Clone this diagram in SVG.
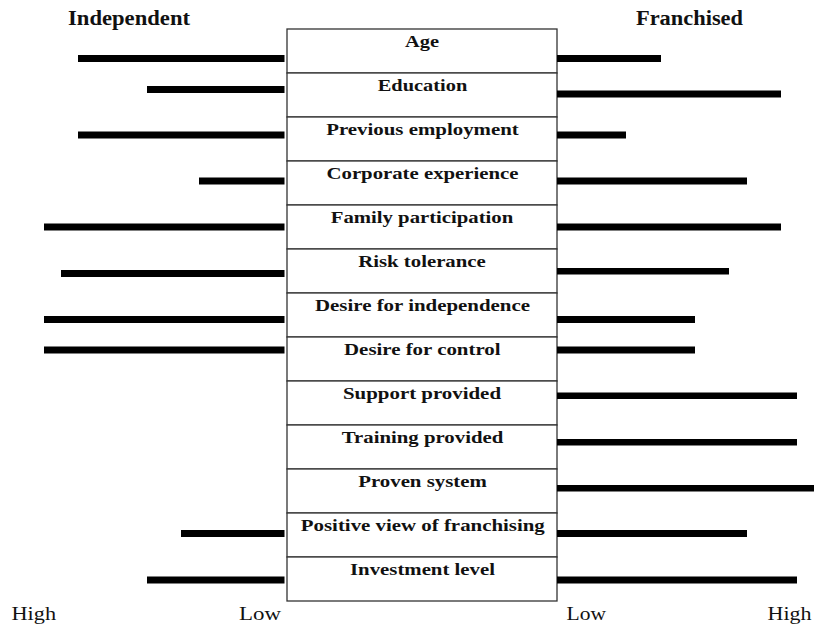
<svg xmlns="http://www.w3.org/2000/svg" width="815" height="626" viewBox="0 0 815 626">
<style>
.lbl{font-family:"Liberation Serif","Times New Roman",serif;font-weight:bold;font-size:17.5px;fill:#111;text-anchor:middle}
.hdr{font-family:"Liberation Serif","Times New Roman",serif;font-weight:bold;font-size:20px;fill:#111}
.ax{font-family:"Liberation Serif","Times New Roman",serif;font-size:18.5px;fill:#111}
.cell{fill:#fff;stroke:#333;stroke-width:1.3}
.bar{fill:#000}
</style>
<rect width="815" height="626" fill="#fff"/>
<text class="hdr" x="68" y="25" textLength="122" lengthAdjust="spacingAndGlyphs">Independent</text>
<text class="hdr" x="636" y="24.5" textLength="107" lengthAdjust="spacingAndGlyphs">Franchised</text>
<g id="rows">
<g id="row-age"><rect class="cell" x="287" y="29" width="270" height="44"/><text class="lbl" x="422" y="46.5" textLength="34" lengthAdjust="spacingAndGlyphs">Age</text></g>
<g id="row-education"><rect class="cell" x="287" y="73" width="270" height="44"/><text class="lbl" x="422.5" y="90.5" textLength="89.5" lengthAdjust="spacingAndGlyphs">Education</text></g>
<g id="row-previous-employment"><rect class="cell" x="287" y="117" width="270" height="44"/><text class="lbl" x="422.5" y="134.5" textLength="192.5" lengthAdjust="spacingAndGlyphs">Previous employment</text></g>
<g id="row-corporate-experience"><rect class="cell" x="287" y="161" width="270" height="44"/><text class="lbl" x="422.5" y="178.5" textLength="192" lengthAdjust="spacingAndGlyphs">Corporate experience</text></g>
<g id="row-family-participation"><rect class="cell" x="287" y="205" width="270" height="44"/><text class="lbl" x="422" y="222.5" textLength="182.5" lengthAdjust="spacingAndGlyphs">Family participation</text></g>
<g id="row-risk-tolerance"><rect class="cell" x="287" y="249" width="270" height="44"/><text class="lbl" x="422" y="266.5" textLength="127.5" lengthAdjust="spacingAndGlyphs">Risk tolerance</text></g>
<g id="row-desire-independence"><rect class="cell" x="287" y="293" width="270" height="44"/><text class="lbl" x="422.5" y="310.5" textLength="215" lengthAdjust="spacingAndGlyphs">Desire for independence</text></g>
<g id="row-desire-control"><rect class="cell" x="287" y="337" width="270" height="44"/><text class="lbl" x="422.3" y="354.5" textLength="156.5" lengthAdjust="spacingAndGlyphs">Desire for control</text></g>
<g id="row-support-provided"><rect class="cell" x="287" y="381" width="270" height="44"/><text class="lbl" x="422" y="398.5" textLength="158" lengthAdjust="spacingAndGlyphs">Support provided</text></g>
<g id="row-training-provided"><rect class="cell" x="287" y="425" width="270" height="44"/><text class="lbl" x="422.5" y="442.5" textLength="161.5" lengthAdjust="spacingAndGlyphs">Training provided</text></g>
<g id="row-proven-system"><rect class="cell" x="287" y="469" width="270" height="44"/><text class="lbl" x="422.5" y="486.5" textLength="128.5" lengthAdjust="spacingAndGlyphs">Proven system</text></g>
<g id="row-positive-view"><rect class="cell" x="287" y="513" width="270" height="44"/><text class="lbl" x="422.8" y="530.5" textLength="244" lengthAdjust="spacingAndGlyphs">Positive view of franchising</text></g>
<g id="row-investment-level"><rect class="cell" x="287" y="557" width="270" height="44"/><text class="lbl" x="422.5" y="574.5" textLength="145" lengthAdjust="spacingAndGlyphs">Investment level</text></g>
</g>
<g id="connectors">
<rect class="bar" x="78" y="55" width="206.5" height="7"/>
<rect class="bar" x="557" y="55" width="104" height="7"/>
<rect class="bar" x="147" y="86" width="137.5" height="7"/>
<rect class="bar" x="557" y="90.5" width="224" height="7"/>
<rect class="bar" x="78" y="131.5" width="206.5" height="7"/>
<rect class="bar" x="557" y="131.5" width="69" height="7"/>
<rect class="bar" x="199" y="177.5" width="85.5" height="7"/>
<rect class="bar" x="557" y="177.5" width="190" height="7"/>
<rect class="bar" x="44" y="223.5" width="240.5" height="7"/>
<rect class="bar" x="557" y="223.5" width="224" height="7"/>
<rect class="bar" x="61" y="270" width="223.5" height="7"/>
<rect class="bar" x="557" y="268" width="172" height="6.5"/>
<rect class="bar" x="44" y="316" width="240.5" height="7"/>
<rect class="bar" x="557" y="316" width="138" height="7"/>
<rect class="bar" x="44" y="346.5" width="240.5" height="7"/>
<rect class="bar" x="557" y="346.5" width="138" height="7"/>
<rect class="bar" x="557" y="392.5" width="240" height="6.5"/>
<rect class="bar" x="557" y="439" width="240" height="6.5"/>
<rect class="bar" x="557" y="485" width="257" height="6.5"/>
<rect class="bar" x="181" y="530" width="103.5" height="7"/>
<rect class="bar" x="557" y="530" width="190" height="7"/>
<rect class="bar" x="147" y="576.5" width="137.5" height="7"/>
<rect class="bar" x="557" y="576.5" width="240" height="7"/>
</g>
<text class="ax" x="11.5" y="620" textLength="44.5" lengthAdjust="spacingAndGlyphs">High</text>
<text class="ax" x="239" y="620" textLength="42" lengthAdjust="spacingAndGlyphs">Low</text>
<text class="ax" x="566.5" y="620" textLength="39.5" lengthAdjust="spacingAndGlyphs">Low</text>
<text class="ax" x="767.5" y="620" textLength="44" lengthAdjust="spacingAndGlyphs">High</text>
</svg>
